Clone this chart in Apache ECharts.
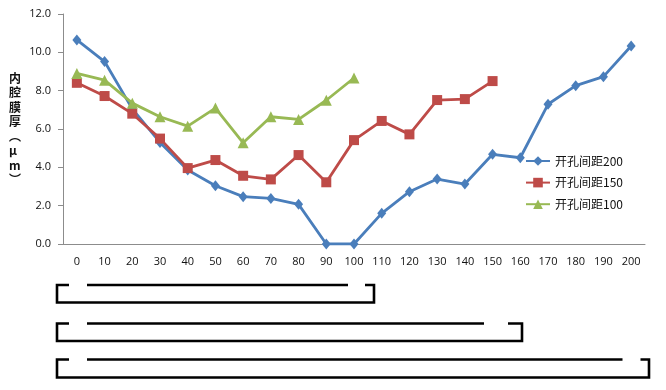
<!DOCTYPE html>
<html>
<head>
<meta charset="utf-8">
<script src="https://cdn.jsdelivr.net/npm/echarts@6/dist/echarts.min.js"></script>
<style>html,body{margin:0;padding:0;background:#fff}#c{width:666px;height:390px}</style>
</head>
<body>
<div id="c"></div>
<script>
const categories = ['0','10','20','30','40','50','60','70','80','90','100','110','120','130','140','150','160','170','180','190','200'];
const yTicks = [0, 2, 4, 6, 8, 10, 12];
const seriesNames = ['开孔间距200', '开孔间距150', '开孔间距100'];
const s200 = [10.65, 9.52, 7.05, 5.3, 3.86, 3.04, 2.47, 2.38, 2.07, 0, 0, 1.6, 2.73, 3.39, 3.13, 4.68, 4.5, 7.29, 8.26, 8.73, 10.33];
const s150 = [8.41, 7.72, 6.8, 5.5, 3.96, 4.38, 3.56, 3.37, 4.64, 3.22, 5.42, 6.42, 5.72, 7.51, 7.56, 8.5];
const s100 = [8.9, 8.55, 7.35, 6.64, 6.15, 7.09, 5.28, 6.64, 6.5, 7.5, 8.66];
const yAxisName = '内腔膜厚（μm）';

const chart = echarts.init(document.getElementById('c'));
const font = '"Open Sans", "Noto Sans CJK SC", sans-serif';
const verticalName = '内\n腔\n膜\n厚\n︵\nμ\nm\n︶';

function bracket(top, bottom, innerEnd, stubStart, right) {
  const style = { stroke: '#000', lineWidth: 2.6, fill: null, lineJoin: 'miter', lineCap: 'butt' };
  return [
    { type: 'polyline', shape: { points: [[69, top], [57, top], [57, bottom], [right, bottom], [right, top], [stubStart, top]] }, style },
    { type: 'polyline', shape: { points: [[87, top], [innerEnd, top]] }, style }
  ];
}

chart.setOption({
  animation: false,
  backgroundColor: '#fff',
  grid: { left: 63, right: 21, top: 14, bottom: 146 },
  legend: {
    orient: 'vertical',
    left: 520, top: 150,
    itemWidth: 24, itemHeight: 12, itemGap: 9.6,
    data: seriesNames,
    textStyle: { fontFamily: '"Noto Sans CJK SC", sans-serif', fontSize: 12, color: '#111', lineHeight: 12 }
  },
  xAxis: {
    type: 'category',
    data: categories,
    boundaryGap: true,
    axisLine: { lineStyle: { color: '#8c8c8c', width: 1 } },
    axisTick: { alignWithLabel: true, inside: true, length: 4, lineStyle: { color: '#8c8c8c' } },
    axisLabel: { interval: 0, margin: 12, fontFamily: font, fontSize: 11, color: '#111' },
    splitLine: { show: false }
  },
  yAxis: {
    type: 'value',
    min: yTicks[0], max: yTicks[yTicks.length - 1], interval: 2,
    axisLine: { show: true, lineStyle: { color: '#8c8c8c', width: 1 } },
    axisTick: { show: true, length: 5, lineStyle: { color: '#8c8c8c' } },
    axisLabel: { margin: 12, fontFamily: font, fontSize: 11, color: '#111', formatter: v => v.toFixed(1) },
    splitLine: { show: false }
  },
  series: [
    { name: seriesNames[0], type: 'line', data: s200, symbol: 'diamond', symbolSize: [9, 11], color: '#4a7ebb',
      lineStyle: { width: 2.8, color: '#4a7ebb' }, itemStyle: { color: '#4a7ebb' } },
    { name: seriesNames[1], type: 'line', data: s150, symbol: 'rect', symbolSize: 10, color: '#be4b48',
      lineStyle: { width: 2.8, color: '#be4b48' }, itemStyle: { color: '#be4b48' } },
    { name: seriesNames[2], type: 'line', data: s100, symbol: 'triangle', symbolSize: 11, color: '#98b954',
      lineStyle: { width: 2.8, color: '#98b954' }, itemStyle: { color: '#98b954' } }
  ],
  graphic: [
    { type: 'text', left: 9, top: 71, style: { text: verticalName, font: 'bold 12px "Noto Sans CJK SC", sans-serif', fill: '#111', lineHeight: 14.5, align: 'center' } },
    ...bracket(285, 302.5, 348, 365, 374),
    ...bracket(323.5, 341, 484, 508, 522),
    ...bracket(359.5, 377.5, 622.5, 640.5, 649)
  ]
});
</script>
</body>
</html>
